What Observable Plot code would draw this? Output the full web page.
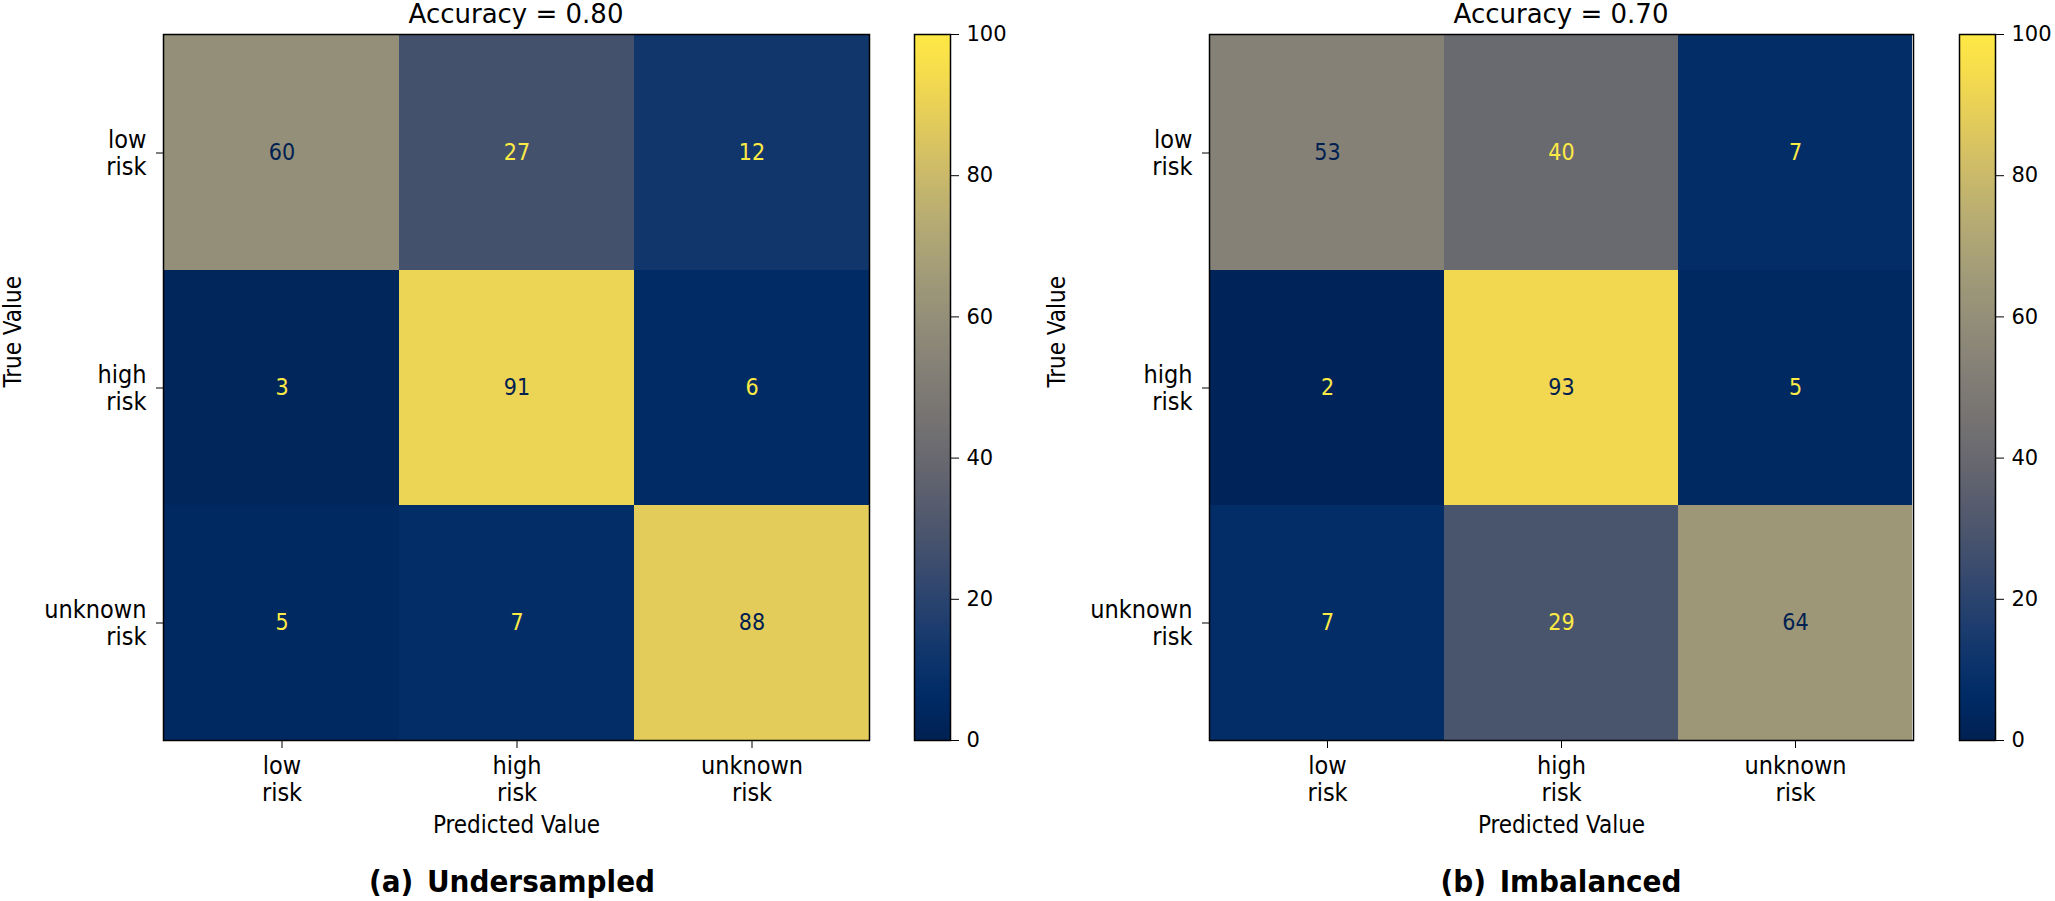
<!DOCTYPE html>
<html>
<head>
<meta charset="utf-8">
<script src="https://cdn.jsdelivr.net/npm/d3@7"></script>
<script src="https://cdn.jsdelivr.net/npm/@observablehq/plot@0.6"></script>
<style>
  html, body { margin: 0; padding: 0; background: #ffffff; }
  #root { position: relative; width: 2055px; height: 901px; overflow: hidden; background: #ffffff; }
  .abs { position: absolute; }
  .title { font-family: "DejaVu Sans", sans-serif; font-size: 26px; line-height: 26px; text-align: center; color: #000; white-space: nowrap; }
  .caption { font-family: "DejaVu Sans Condensed", "DejaVu Sans", sans-serif; font-stretch: condensed; font-weight: bold; font-size: 31px; line-height: 31px; text-align: center; color: #000; white-space: pre; word-spacing: 4px; }
</style>
</head>
<body>
<div id="root"></div>
<script>
// ---- data ----
const classLabels = ["low risk", "high risk", "unknown risk"];
const undersampledMatrix = [
  [60, 27, 12],
  [3, 91, 6],
  [5, 7, 88]
];
const imbalancedMatrix = [
  [53, 40, 7],
  [2, 93, 5],
  [7, 29, 64]
];
const accuracyTitles = ["Accuracy = 0.80", "Accuracy = 0.70"];
const panelCaptions = ["(a) Undersampled", "(b) Imbalanced"];
const colorbarTicks = [0, 20, 40, 60, 80, 100];
const colorDomain = [0, 100];
const xAxisLabel = "Predicted Value";
const yAxisLabel = "True Value";

// ---- helpers ----
const condensed = '"DejaVu Sans Condensed", "DejaVu Sans", sans-serif';
const darkText = d3.interpolateCividis(0);
const lightText = d3.interpolateCividis(1);
const root = document.getElementById("root");

function place(el, left, top) {
  el.style.position = "absolute";
  el.style.left = left + "px";
  el.style.top = top + "px";
  root.appendChild(el);
  return el;
}

function toTable(matrix) {
  const rows = [];
  matrix.forEach((row, i) => row.forEach((v, j) => rows.push({truth: classLabels[i], pred: classLabels[j], value: v})));
  return rows;
}

function heatmap(matrix, cfg) {
  const data = toTable(matrix);
  const vals = data.map(d => d.value);
  const thresh = (d3.max(vals) + d3.min(vals)) / 2;
  const brk = d => d.replace(" ", "\n");
  return Plot.plot({
    width: cfg.width,
    height: 860,
    marginLeft: cfg.marginLeft,
    marginRight: cfg.marginRight,
    marginTop: 34,
    marginBottom: 120,
    style: {fontFamily: condensed, fontSize: "25px", color: "#000", background: "transparent", fontStretch: "condensed", overflow: "visible"},
    x: {domain: classLabels, padding: 0, axis: null},
    y: {domain: classLabels, padding: 0, axis: null},
    color: {type: "linear", scheme: "cividis", domain: colorDomain},
    marks: [
      Plot.cell(data, {x: "pred", y: "truth", fill: "value", inset: 0}),
      Plot.text(data.filter(d => d.value < thresh), {x: "pred", y: "truth", text: "value", fill: lightText, fontSize: 23}),
      Plot.text(data.filter(d => d.value >= thresh), {x: "pred", y: "truth", text: "value", fill: darkText, fontSize: 23}),
      Plot.frame({stroke: "#000", strokeWidth: 1.5}),
      Plot.axisX({anchor: "bottom", tickSize: 8, tickPadding: 6, tickFormat: brk, lineHeight: 1.08, fontSize: 25, label: null, stroke: "#000"}),
      Plot.axisY({anchor: "left", tickSize: 7, tickPadding: 10, tickFormat: brk, lineHeight: 1.08, fontSize: 25, label: null, stroke: "#000"}),
      Plot.text([xAxisLabel], {frameAnchor: "bottom", dy: 92, fontSize: 24, fill: "#000"}),
      Plot.text([yAxisLabel], {frameAnchor: "left", dx: cfg.yLabelDx, rotate: -90, fontSize: 24, fill: "#000"})
    ]
  });
}

function colorbar(cfg) {
  return Plot.plot({
    width: cfg.width,
    height: 860,
    marginLeft: cfg.marginLeft,
    marginRight: cfg.marginRight,
    marginTop: 34,
    marginBottom: 120,
    style: {fontFamily: '"DejaVu Sans", sans-serif', fontSize: "21px", color: "#000", background: "transparent", overflow: "visible"},
    x: {domain: [0, 1], axis: null},
    y: {domain: colorDomain, axis: null},
    color: {type: "linear", scheme: "cividis", domain: colorDomain},
    marks: [
      Plot.raster({x1: 0, x2: 1, y1: colorDomain[0], y2: colorDomain[1], width: 1, height: 256, fill: (x, y) => y, imageRendering: "auto"}),
      Plot.frame({stroke: "#000", strokeWidth: 1.5}),
      Plot.axisY({anchor: "right", ticks: colorbarTicks, tickSize: 8, tickPadding: 8, fontSize: 21, label: null, stroke: "#000"})
    ]
  });
}

function htmlText(cls, text, centerX, top, w) {
  const d = document.createElement("div");
  d.className = cls;
  d.textContent = text;
  d.style.width = w + "px";
  place(d, centerX - w / 2, top);
}

// left panel
place(heatmap(undersampledMatrix, {width: 880, marginLeft: 163, marginRight: 11, yLabelDx: -150}), 0, 0);
place(colorbar({width: 120, marginLeft: 14, marginRight: 70}), 900, 0);
// right panel
place(heatmap(imbalancedMatrix, {width: 885, marginLeft: 169, marginRight: 12, yLabelDx: -152}), 1040, 0);
place(colorbar({width: 110, marginLeft: 14, marginRight: 60}), 1945, 0);

// titles and captions
htmlText("title", accuracyTitles[0], 516, 1, 500);
htmlText("title", accuracyTitles[1], 1561, 1, 500);
htmlText("caption", panelCaptions[0], 512, 866, 500);
htmlText("caption", panelCaptions[1], 1561, 866, 500);
</script>
</body>
</html>
